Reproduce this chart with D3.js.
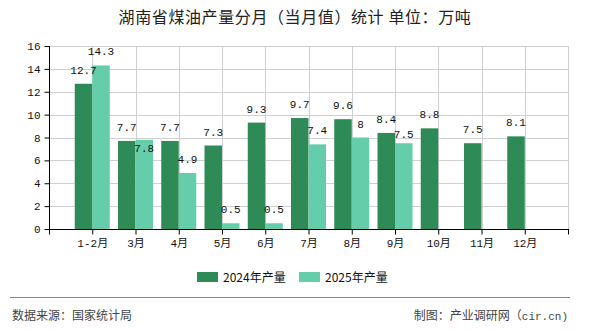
<!DOCTYPE html>
<html>
<head>
<meta charset="utf-8">
<script src="https://cdn.jsdelivr.net/npm/d3@7/dist/d3.min.js"></script>
<style>
  html, body { margin: 0; padding: 0; background: #fff; }
  svg { display: block; }
</style>
</head>
<body>
<svg id="chart" width="590" height="330"></svg>
<script>
// 湖南省煤油产量（万吨）
const months = ["1-2月", "3月", "4月", "5月", "6月", "7月", "8月", "9月", "10月", "11月", "12月"];
const output2024 = [12.7, 7.7, 7.7, 7.3, 9.3, 9.7, 9.6, 8.4, 8.8, 7.5, 8.1];
const output2025 = [14.3, 7.8, 4.9, 0.5, 0.5, 7.4, 8, 7.5, null, null, null];
const yTicks = [0, 2, 4, 6, 8, 10, 12, 14, 16];
const seriesNames = ["2024年产量", "2025年产量"];
const seriesColors = ["#2e8b57", "#66cdaa"];
// labels pushed downward where they would collide with the neighbouring label
const labelDrop2025 = { "3月": 22, "9月": 5 };

const svg = d3.select("#chart");
const plotL = 49, plotR = 568, plotT = 46, plotB = 229;
const numFont = "'Liberation Mono','Noto Sans CJK SC',monospace";
const cjkFont = "'Noto Sans CJK SC','Noto Sans',sans-serif";

const x = d3.scalePoint().domain(months).range([plotL, plotR]).padding(1);
const y = d3.scaleLinear().domain([0, 16]).range([plotB, plotT]);
const barW = 17.5;

// title
svg.append("text")
  .attr("x", 295).attr("y", 23)
  .attr("text-anchor", "middle")
  .attr("font-family", cjkFont)
  .attr("font-size", 16)
  .attr("letter-spacing", 0.6)
  .attr("fill", "#222")
  .text("湖南省煤油产量分月（当月值）统计 单位：万吨");

// grid
const grid = svg.append("g").attr("stroke", "#d0d0d0").attr("stroke-width", 1);
yTicks.filter(v => v > 0).forEach(v => {
  grid.append("line").attr("x1", plotL).attr("x2", plotR)
    .attr("y1", Math.round(y(v)) + 0.5).attr("y2", Math.round(y(v)) + 0.5);
});
months.forEach(m => {
  grid.append("line").attr("y1", plotT).attr("y2", plotB)
    .attr("x1", Math.round(x(m)) + 0.5).attr("x2", Math.round(x(m)) + 0.5);
});
grid.append("line").attr("y1", plotT).attr("y2", plotB)
  .attr("x1", plotR + 0.5).attr("x2", plotR + 0.5);

// bars
const series = [output2024, output2025];
series.forEach((vals, si) => {
  svg.append("g").selectAll("rect")
    .data(months.map((m, i) => ({ m, v: vals[i] })).filter(d => d.v != null))
    .join("rect")
    .attr("x", d => si === 0 ? x(d.m) - barW : x(d.m))
    .attr("width", barW)
    .attr("y", d => y(d.v))
    .attr("height", d => y(0) - y(d.v))
    .attr("fill", seriesColors[si]);
});

// value labels
series.forEach((vals, si) => {
  svg.append("g").selectAll("text")
    .data(months.map((m, i) => ({ m, v: vals[i] })).filter(d => d.v != null))
    .join("text")
    .attr("x", d => si === 0 ? x(d.m) - barW / 2 : x(d.m) + barW / 2)
    .attr("y", d => y(d.v) - 10 + (si === 1 ? (labelDrop2025[d.m] || 0) : 0))
    .attr("text-anchor", "middle")
    .attr("font-family", numFont)
    .attr("font-size", 11)
    .attr("fill", "#111")
    .text(d => d.v);
});

// axes
const yAxis = svg.append("g").attr("transform", `translate(${plotL + 0.5},0)`)
  .call(d3.axisLeft(y).tickValues(yTicks).tickSize(5).tickPadding(4).tickFormat(d3.format("d")));
yAxis.select(".domain").attr("stroke", "#000").attr("d", `M0,${plotT}V${plotB}`);
yAxis.selectAll(".tick line").attr("stroke", "#000");
yAxis.selectAll("text").attr("font-family", numFont).attr("font-size", 11).attr("fill", "#111");

const xAxis = svg.append("g").attr("transform", `translate(0,${plotB + 0.5})`)
  .call(d3.axisBottom(x).tickSize(5).tickPadding(5));
xAxis.select(".domain").attr("stroke", "#000").attr("d", `M${plotL},0H${plotR + 1}`);
xAxis.selectAll(".tick line").attr("stroke", "#000");
xAxis.selectAll("text").attr("font-family", numFont).attr("font-size", 11).attr("fill", "#111");
[plotL, plotR].forEach(px => {
  xAxis.append("line").attr("x1", px + 0.5).attr("x2", px + 0.5).attr("y1", 0).attr("y2", 5).attr("stroke", "#000");
});

// legend
const legendX = [197, 299];
seriesNames.forEach((name, i) => {
  const g = svg.append("g").attr("transform", `translate(${legendX[i]},272)`);
  g.append("rect").attr("width", 21).attr("height", 10).attr("fill", seriesColors[i]);
  g.append("text").attr("x", 26).attr("y", 9.5)
    .attr("font-family", cjkFont).attr("font-size", 12).attr("fill", "#111")
    .text(name);
});

// footer
svg.append("line").attr("x1", 10).attr("x2", 570).attr("y1", 297.5).attr("y2", 297.5)
  .attr("stroke", "#888").attr("stroke-width", 1);
svg.append("text").attr("x", 12).attr("y", 320)
  .attr("font-family", cjkFont).attr("font-size", 12).attr("fill", "#444")
  .text("数据来源：国家统计局");
const credit = svg.append("text").attr("x", 568).attr("y", 320).attr("text-anchor", "end")
  .attr("font-family", cjkFont).attr("font-size", 12).attr("fill", "#444");
credit.append("tspan").text("制图：产业调研网（");
credit.append("tspan").attr("font-family", numFont).attr("font-size", 11).text("cir.cn)");
</script>
</body>
</html>
